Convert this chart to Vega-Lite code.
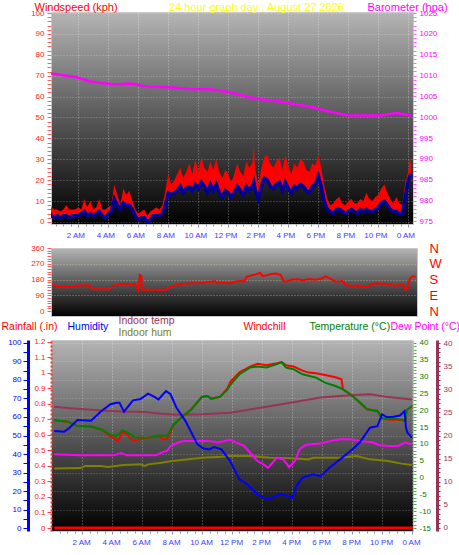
{
"$schema": "https://vega.github.io/schema/vega-lite/v6.json",
"padding": 0,
"background": "#ffffff",
"bounds": "flush",
"spacing": 24,
"config": {
  "font": "Liberation Sans",
  "view": {"fill": {"gradient": "linear", "x1": 0, "y1": 0, "x2": 0, "y2": 1, "stops": [{"offset": 0, "color": "#b4b4b4"}, {"offset": 0.5, "color": "#585858"}, {"offset": 1, "color": "#000000"}]}, "stroke": "#c8c8c8"},
  "axis": {"domain": false, "labelFontSize": 8, "titleFontWeight": "normal", "titleFontSize": 11, "titleAngle": 0, "titleAlign": "left", "titleBaseline": "top", "labelOverlap": false, "labelFlush": false, "grid": false}
},
"datasets": {
  "wind": [
    {"t":0,"g":11,"a":5},{"t":0.2,"g":7,"a":3},{"t":0.4,"g":6,"a":2},{"t":0.6,"g":6,"a":3},{"t":0.8,"g":5,"a":2},{"t":1,"g":6,"a":3},{"t":1.2,"g":8,"a":3},{"t":1.4,"g":6,"a":2},{"t":1.6,"g":6,"a":3},{"t":1.8,"g":6,"a":3},
    {"t":2,"g":7,"a":3},{"t":2.2,"g":6,"a":4},{"t":2.4,"g":11,"a":5},{"t":2.6,"g":7,"a":3},{"t":2.8,"g":10,"a":4},{"t":3,"g":6,"a":3},{"t":3.2,"g":7,"a":4},{"t":3.4,"g":11,"a":5},{"t":3.6,"g":6,"a":3},{"t":3.8,"g":6,"a":2},
    {"t":4,"g":7,"a":4},{"t":4.2,"g":8,"a":5},{"t":4.4,"g":18,"a":11},{"t":4.6,"g":13,"a":8},{"t":4.8,"g":8,"a":6},{"t":5,"g":16,"a":9},{"t":5.2,"g":13,"a":8},{"t":5.4,"g":15,"a":8},{"t":5.6,"g":10,"a":6},{"t":5.8,"g":6,"a":3},
    {"t":6,"g":4,"a":1},{"t":6.2,"g":5,"a":2},{"t":6.4,"g":6,"a":2},{"t":6.6,"g":3,"a":0},{"t":6.8,"g":5,"a":1},{"t":7,"g":6,"a":3},{"t":7.2,"g":7,"a":3},{"t":7.4,"g":6,"a":3},{"t":7.6,"g":8,"a":4},{"t":7.8,"g":15,"a":8},
    {"t":8,"g":23,"a":14},{"t":8.2,"g":18,"a":13},{"t":8.4,"g":20,"a":14},{"t":8.6,"g":23,"a":15},{"t":8.8,"g":26,"a":17},{"t":9,"g":21,"a":14},{"t":9.2,"g":24,"a":16},{"t":9.4,"g":28,"a":17},{"t":9.6,"g":23,"a":15},{"t":9.8,"g":30,"a":18},
    {"t":10,"g":24,"a":16},{"t":10.2,"g":31,"a":19},{"t":10.4,"g":26,"a":17},{"t":10.6,"g":24,"a":14},{"t":10.8,"g":29,"a":18},{"t":11,"g":25,"a":15},{"t":11.2,"g":30,"a":18},{"t":11.4,"g":24,"a":14},{"t":11.6,"g":21,"a":12},{"t":11.8,"g":25,"a":15},
    {"t":12,"g":23,"a":14},{"t":12.2,"g":19,"a":12},{"t":12.4,"g":23,"a":14},{"t":12.6,"g":28,"a":17},{"t":12.8,"g":24,"a":15},{"t":13,"g":22,"a":13},{"t":13.2,"g":29,"a":17},{"t":13.4,"g":26,"a":15},{"t":13.6,"g":28,"a":17},{"t":13.7,"g":37,"a":19},
    {"t":13.8,"g":25,"a":15},{"t":14,"g":18,"a":11},{"t":14.2,"g":26,"a":17},{"t":14.4,"g":31,"a":21},{"t":14.6,"g":32,"a":20},{"t":14.8,"g":28,"a":17},{"t":15,"g":26,"a":16},{"t":15.2,"g":29,"a":18},{"t":15.4,"g":31,"a":19},{"t":15.6,"g":25,"a":15},
    {"t":15.8,"g":32,"a":19},{"t":16,"g":27,"a":16},{"t":16.2,"g":23,"a":14},{"t":16.4,"g":28,"a":17},{"t":16.6,"g":26,"a":16},{"t":16.8,"g":30,"a":18},{"t":17,"g":29,"a":17},{"t":17.2,"g":25,"a":15},{"t":17.4,"g":24,"a":14},{"t":17.6,"g":28,"a":17},
    {"t":17.8,"g":27,"a":18},{"t":18,"g":32,"a":22},{"t":18.2,"g":26,"a":17},{"t":18.4,"g":17,"a":10},{"t":18.6,"g":11,"a":6},{"t":18.8,"g":8,"a":5},{"t":19,"g":9,"a":4},{"t":19.2,"g":11,"a":6},{"t":19.4,"g":12,"a":6},{"t":19.6,"g":9,"a":5},
    {"t":19.8,"g":8,"a":4},{"t":20,"g":10,"a":5},{"t":20.2,"g":11,"a":6},{"t":20.4,"g":9,"a":5},{"t":20.6,"g":9,"a":4},{"t":20.8,"g":11,"a":6},{"t":21,"g":10,"a":5},{"t":21.2,"g":14,"a":6},{"t":21.4,"g":11,"a":5},{"t":21.6,"g":10,"a":5},
    {"t":21.8,"g":12,"a":6},{"t":22,"g":13,"a":7},{"t":22.2,"g":16,"a":9},{"t":22.4,"g":18,"a":10},{"t":22.6,"g":14,"a":8},{"t":22.8,"g":11,"a":6},{"t":23,"g":9,"a":5},{"t":23.2,"g":12,"a":5},{"t":23.4,"g":9,"a":4},{"t":23.6,"g":8,"a":4},
    {"t":23.8,"g":19,"a":12},{"t":24,"g":24,"a":20},{"t":24.1,"g":31,"a":22},{"t":24.2,"g":27,"a":23}
  ],
  "baro": [
    {"t":0,"p":1010.6},{"t":1,"p":1010.1},{"t":1.9,"p":1009.6},{"t":2.8,"p":1008.6},{"t":3.5,"p":1008.2},{"t":4.2,"p":1008.0},{"t":4.8,"p":1007.9},{"t":5.3,"p":1008.1},{"t":5.8,"p":1008.0},{"t":6.3,"p":1007.5},{"t":6.8,"p":1007.3},{"t":8.1,"p":1007.2},{"t":9.5,"p":1006.8},{"t":10.8,"p":1006.7},{"t":12.1,"p":1006.0},{"t":13.4,"p":1004.8},{"t":14.4,"p":1004.2},{"t":15.4,"p":1003.8},{"t":16.5,"p":1003.1},{"t":17.6,"p":1002.4},{"t":18.7,"p":1001.4},{"t":19.9,"p":1000.5},{"t":21,"p":1000.4},{"t":22.1,"p":1000.4},{"t":23.2,"p":1001.0},{"t":24.2,"p":1000.4}
  ],
  "dir": [
    {"t":0.1,"d":155},{"t":0.3,"d":140},{"t":1.6,"d":140},{"t":1.7,"d":146},{"t":2.6,"d":146},{"t":2.7,"d":125},{"t":3.9,"d":125},{"t":4.0,"d":132},{"t":4.1,"d":145},{"t":4.5,"d":150},{"t":4.8,"d":155},{"t":5.3,"d":150},{"t":5.6,"d":152},{"t":5.8,"d":120},{"t":5.9,"d":205},{"t":6.0,"d":200},{"t":6.05,"d":122},{"t":7.7,"d":122},{"t":7.9,"d":135},{"t":8.2,"d":145},{"t":8.4,"d":150},{"t":8.8,"d":155},{"t":9.3,"d":158},{"t":10,"d":160},{"t":10.9,"d":170},{"t":11,"d":162},{"t":12,"d":160},{"t":12.3,"d":168},{"t":12.6,"d":172},{"t":12.9,"d":170},{"t":13.0,"d":195},{"t":13.3,"d":202},{"t":13.6,"d":208},{"t":13.9,"d":218},{"t":14.1,"d":200},{"t":14.4,"d":205},{"t":14.7,"d":212},{"t":15.0,"d":214},{"t":15.3,"d":205},{"t":15.5,"d":170},{"t":15.7,"d":168},{"t":16.0,"d":178},{"t":16.4,"d":182},{"t":16.8,"d":176},{"t":17.2,"d":183},{"t":17.6,"d":178},{"t":18.0,"d":186},{"t":18.3,"d":198},{"t":18.6,"d":185},{"t":18.9,"d":170},{"t":19.2,"d":168},{"t":19.4,"d":172},{"t":19.6,"d":150},{"t":20.0,"d":143},{"t":20.5,"d":145},{"t":21.0,"d":138},{"t":21.3,"d":150},{"t":21.7,"d":158},{"t":22.2,"d":156},{"t":22.6,"d":152},{"t":22.9,"d":145},{"t":23.3,"d":150},{"t":23.5,"d":145},{"t":23.6,"d":122},{"t":23.75,"d":130},{"t":23.9,"d":185},{"t":24.1,"d":200},{"t":24.3,"d":195}
  ],
  "hum": [
    {"t":0.15,"v":52.4},{"t":0.8,"v":52},{"t":1.1,"v":53.7},{"t":1.7,"v":58.4},{"t":2.6,"v":58},{"t":3.3,"v":63.2},{"t":3.9,"v":66.9},{"t":4.3,"v":67.7},{"t":4.5,"v":67.7},{"t":4.8,"v":62.9},{"t":5.4,"v":69},{"t":5.9,"v":69.7},{"t":6.4,"v":72.6},{"t":6.8,"v":71},{"t":7.1,"v":69.5},{"t":7.6,"v":74},{"t":7.9,"v":72.3},{"t":8.3,"v":65},{"t":8.6,"v":61.4},{"t":8.9,"v":57.8},{"t":9.3,"v":51.5},{"t":9.7,"v":45.2},{"t":10.1,"v":43},{"t":10.5,"v":42.5},{"t":10.8,"v":43.8},{"t":11.3,"v":42.5},{"t":11.7,"v":38},{"t":11.9,"v":35.8},{"t":12.1,"v":32.6},{"t":12.5,"v":26.3},{"t":13,"v":23.6},{"t":13.7,"v":18.2},{"t":14.3,"v":15.5},{"t":15.2,"v":18.2},{"t":15.7,"v":17.3},{"t":16,"v":16.2},{"t":16.3,"v":22.7},{"t":16.7,"v":27.2},{"t":17.4,"v":29},{"t":17.9,"v":28},{"t":18.5,"v":32.6},{"t":19.2,"v":37.1},{"t":19.9,"v":41.6},{"t":20.5,"v":46.1},{"t":21.2,"v":54.2},{"t":21.7,"v":55},{"t":22,"v":61.5},{"t":22.3,"v":60},{"t":22.7,"v":60},{"t":23.2,"v":60.8},{"t":23.5,"v":63.2},{"t":23.6,"v":54.2},{"t":23.7,"v":51.5},{"t":24,"v":48.8}
  ],
  "temp": [
    {"t":0.15,"v":17},{"t":1.07,"v":16.6},{"t":1.7,"v":15.3},{"t":2.6,"v":15.2},{"t":3.3,"v":14.3},{"t":3.9,"v":12.7},{"t":4.3,"v":12.4},{"t":4.7,"v":14},{"t":5,"v":13.5},{"t":5.5,"v":12},{"t":6.4,"v":11.8},{"t":7.1,"v":12.5},{"t":7.7,"v":12.4},{"t":8.1,"v":15.8},{"t":8.6,"v":17.8},{"t":9.3,"v":20.3},{"t":10,"v":24},{"t":10.4,"v":24.2},{"t":10.6,"v":23.4},{"t":11.2,"v":24},{"t":11.7,"v":26.2},{"t":11.9,"v":27.6},{"t":12.5,"v":30.7},{"t":13.2,"v":32.7},{"t":13.7,"v":33},{"t":14.3,"v":32.7},{"t":15,"v":33.7},{"t":15.3,"v":34.3},{"t":15.6,"v":32.7},{"t":16.1,"v":32.2},{"t":16.7,"v":30.7},{"t":17.6,"v":29.7},{"t":18.2,"v":28.2},{"t":18.9,"v":27.2},{"t":19.4,"v":26.2},{"t":19.9,"v":24.7},{"t":20.4,"v":22.8},{"t":21,"v":20.3},{"t":21.7,"v":19.8},{"t":22,"v":17.6},{"t":22.5,"v":17.5},{"t":23,"v":17.4},{"t":23.4,"v":17.2},{"t":23.55,"v":17},{"t":23.65,"v":20},{"t":24,"v":21.3}
  ],
  "chill": [
    {"t":0.15,"v":17},{"t":1.07,"v":16.6},{"t":1.7,"v":15.3},{"t":2.6,"v":15.2},{"t":3.3,"v":14.3},{"t":3.9,"v":12.2},{"t":4.1,"v":11.8},{"t":4.4,"v":10.9},{"t":4.7,"v":13.6},{"t":5,"v":12.8},{"t":5.4,"v":10.9},{"t":5.7,"v":11.3},{"t":6.4,"v":11.8},{"t":7.1,"v":12.3},{"t":7.4,"v":11.3},{"t":7.7,"v":11.5},{"t":8.1,"v":15.5},{"t":8.6,"v":17.8},{"t":9.3,"v":20.3},{"t":10,"v":24},{"t":10.4,"v":24.2},{"t":10.6,"v":23.4},{"t":11.2,"v":24},{"t":11.7,"v":26.5},{"t":11.9,"v":28.5},{"t":12.5,"v":31.3},{"t":13.2,"v":33},{"t":13.7,"v":33.8},{"t":14.3,"v":33.4},{"t":15,"v":34},{"t":15.3,"v":34.3},{"t":15.6,"v":33.4},{"t":16.1,"v":33},{"t":16.7,"v":31.8},{"t":17.1,"v":31.2},{"t":17.6,"v":31},{"t":18.2,"v":30.5},{"t":18.9,"v":29.8},{"t":19.3,"v":29.2},{"t":19.4,"v":26.2},{"t":19.9,"v":24.7},{"t":20.4,"v":22.8},{"t":21,"v":20.3},{"t":21.7,"v":19.8},{"t":22,"v":17.6},{"t":22.5,"v":17.2},{"t":23,"v":17.2},{"t":23.4,"v":17.0},{"t":23.55,"v":16.8},{"t":23.65,"v":20},{"t":24,"v":21.3}
  ],
  "dew": [
    {"t":0.15,"v":6.9},{"t":1.9,"v":6.6},{"t":3.3,"v":6.6},{"t":4.1,"v":6.6},{"t":4.6,"v":7.3},{"t":5,"v":6.6},{"t":6.9,"v":6.6},{"t":7.3,"v":7.4},{"t":7.7,"v":8},{"t":7.9,"v":9.4},{"t":8.4,"v":10.4},{"t":8.8,"v":10.9},{"t":9.5,"v":10.9},{"t":10.4,"v":10.9},{"t":11.1,"v":10.4},{"t":11.5,"v":10.9},{"t":11.9,"v":11.3},{"t":12.3,"v":10.4},{"t":12.8,"v":9.4},{"t":13.1,"v":7.9},{"t":13.4,"v":6.4},{"t":13.7,"v":4.9},{"t":14.1,"v":3.9},{"t":14.4,"v":2.9},{"t":14.7,"v":4.4},{"t":15,"v":5.9},{"t":15.4,"v":5.4},{"t":15.6,"v":4.4},{"t":15.8,"v":3.1},{"t":16.2,"v":4.9},{"t":16.5,"v":8.4},{"t":16.9,"v":9.7},{"t":17.2,"v":9.9},{"t":17.9,"v":10.1},{"t":18.6,"v":10.9},{"t":19.2,"v":11.4},{"t":19.9,"v":11.4},{"t":20.5,"v":10.9},{"t":21.4,"v":10.4},{"t":21.8,"v":9.7},{"t":22.4,"v":9.4},{"t":23.1,"v":9.4},{"t":23.5,"v":10.4},{"t":24,"v":9.9}
  ],
  "itemp": [
    {"t":0.15,"v":26.2},{"t":1.2,"v":25.9},{"t":3.3,"v":25.4},{"t":4.6,"v":25.2},{"t":6.2,"v":25.1},{"t":7.3,"v":24.7},{"t":8.4,"v":24.5},{"t":10,"v":24.6},{"t":11.9,"v":24.9},{"t":13.9,"v":26},{"t":15.9,"v":27.1},{"t":17.9,"v":28.2},{"t":19.9,"v":28.7},{"t":21.2,"v":28.9},{"t":22.4,"v":28.3},{"t":24,"v":27.8}
  ],
  "ihum": [
    {"t":0.15,"v":32.1},{"t":1.9,"v":32.4},{"t":2.2,"v":33.5},{"t":3.3,"v":33.5},{"t":3.7,"v":33},{"t":4.8,"v":34},{"t":5.9,"v":34.4},{"t":6.2,"v":33.5},{"t":6.4,"v":34.4},{"t":7.3,"v":35.3},{"t":8,"v":36.2},{"t":9.1,"v":37.1},{"t":10,"v":38},{"t":11.3,"v":38.5},{"t":11.9,"v":39.1},{"t":13.2,"v":38.9},{"t":14.5,"v":38},{"t":15.9,"v":37.7},{"t":17.1,"v":37.1},{"t":17.4,"v":38},{"t":19.2,"v":38},{"t":20.3,"v":38.9},{"t":21.2,"v":37.1},{"t":22.4,"v":36.2},{"t":23.3,"v":34.8},{"t":24,"v":34}
  ],
  "rain": [{"t":0.15,"v":0},{"t":24.05,"v":0}]
},
"vconcat": [
  {
    "width": 362, "height": 212,
    "layer": [
      {"data": {"name": "wind"}, "mark": {"type": "area", "color": "#ff0000", "clip": true},
       "encoding": {
         "x": {"field": "t", "type": "quantitative", "scale": {"domain": [0.18, 24.31], "nice": false, "zero": false},
               "axis": {"orient": "bottom", "values": [2,4,6,8,10,12,14,16,18,20,22,24],
                        "labelExpr": "datum.value % 24 === 0 ? '0 AM' : datum.value < 12 ? datum.value + ' AM' : datum.value === 12 ? '12 PM' : (datum.value - 12) + ' PM'",
                        "labelOverlap": false, "labelColor": "#3c3cff", "labelFontSize": 8, "labelPadding": 4, "labelOffset": -3, "tickColor": "#9090b0", "tickSize": 3,
                        "grid": true, "gridColor": "#ffffff", "gridDash": [1, 2], "gridOpacity": 0.45,
                        "title": "24 hour graph day : August 27 2026", "titleColor": "#ffff00", "titleAlign": "center", "titleX": 205, "titleY": -223}},
         "y": {"field": "a", "type": "quantitative", "scale": {"domain": [-0.96, 100.48], "nice": false, "zero": false},
               "axis": {"orient": "left", "values": [0,2,4,6,8,10,12,14,16,18,20,22,24,26,28,30,32,34,36,38,40,42,44,46,48,50,52,54,56,58,60,62,64,66,68,70,72,74,76,78,80,82,84,86,88,90,92,94,96,98,100],
                        "labelOverlap": false, "labelExpr": "datum.value % 10 === 0 ? '' + datum.value : ''", "labelColor": "#ff2020", "tickColor": "#ff6060", "tickSize": 4, "labelPadding": 3,
                        "grid": true, "gridColor": "#ffffff", "gridDash": [1, 2], "gridOpacity": {"condition": {"test": "datum.value % 10 === 0", "value": 0.35}, "value": 0},
                        "title": "Windspeed (kph)", "titleColor": "#ff0000", "titleX": -17, "titleY": -11}},
         "y2": {"field": "g"}
       }},
      {"data": {"name": "wind"}, "mark": {"type": "line", "color": "#000098", "strokeWidth": 3.5, "clip": true},
       "encoding": {"x": {"field": "t", "type": "quantitative", "axis": null},
                    "y": {"field": "a", "type": "quantitative", "scale": {"domain": [-0.96, 100.48], "nice": false, "zero": false}, "axis": null}}},
      {"data": {"name": "wind"}, "mark": {"type": "line", "strokeOpacity": 0},
       "encoding": {"x": {"field": "t", "type": "quantitative",
                          "axis": {"orient": "bottom", "values": [0.5,1,1.5,2.5,3,3.5,4.5,5,5.5,6.5,7,7.5,8.5,9,9.5,10.5,11,11.5,12.5,13,13.5,14.5,15,15.5,16.5,17,17.5,18.5,19,19.5,20.5,21,21.5,22.5,23,23.5], "labels": false, "tickColor": "#9090b0", "tickSize": 2, "grid": false, "title": null}},
                    "y": {"field": "a", "type": "quantitative", "scale": {"domain": [-0.96, 100.48], "nice": false, "zero": false}, "axis": null}}},
      {"data": {"name": "baro"}, "mark": {"type": "line", "color": "#ff00ff", "strokeWidth": 2.5, "clip": true},
       "encoding": {"x": {"field": "t", "type": "quantitative", "axis": null},
                    "y": {"field": "p", "type": "quantitative", "scale": {"domain": [974.4, 1025.25], "nice": false, "zero": false},
                          "axis": {"orient": "right", "values": [975,976,977,978,979,980,981,982,983,984,985,986,987,988,989,990,991,992,993,994,995,996,997,998,999,1000,1001,1002,1003,1004,1005,1006,1007,1008,1009,1010,1011,1012,1013,1014,1015,1016,1017,1018,1019,1020,1021,1022,1023,1024,1025],
                                   "labelOverlap": false, "labelExpr": "datum.value % 5 === 0 ? '' + datum.value : ''", "labelColor": "#ff00ff", "tickColor": "#ff60ff", "tickSize": 3, "labelPadding": 3,
                                   "title": "Barometer (hpa)", "titleColor": "#ff00ff", "titleX": -46, "titleY": -11}}}}
    ],
    "resolve": {"scale": {"y": "independent"}, "axis": {"x": "independent"}}
  },
  {
    "width": 366, "height": 68,
    "layer": [
      {"data": {"name": "dir"}, "mark": {"type": "line", "color": "#ff0000", "strokeWidth": 2, "clip": true},
       "encoding": {
         "x": {"field": "t", "type": "quantitative", "scale": {"domain": [-0.02, 24.38], "nice": false, "zero": false}, "axis": null},
         "y": {"field": "d", "type": "quantitative", "scale": {"domain": [-28.57, 360], "nice": false, "zero": false},
               "axis": {"orient": "left", "values": [0,15,30,45,60,75,90,105,120,135,150,165,180,195,210,225,240,255,270,285,300,315,330,345,360],
                        "labelOverlap": false, "labelExpr": "datum.value % 90 === 0 ? '' + datum.value : ''", "labelColor": "#ff2020", "tickColor": "#ff6060", "tickSize": 4, "labelPadding": 3,
                        "grid": true, "gridColor": "#e8e8b0", "gridDash": [1, 2], "gridOpacity": {"condition": {"test": "datum.value % 90 === 0 && datum.value > 0 && datum.value < 360", "value": 0.5}, "value": 0},
                        "title": null}}
       }},
      {"data": {"name": "dir"}, "mark": {"type": "line", "strokeOpacity": 0},
       "encoding": {
         "x": {"field": "t", "type": "quantitative", "axis": null},
         "y": {"field": "d", "type": "quantitative",
               "axis": {"orient": "right", "values": [0, 90, 180, 270, 360], "labelOverlap": false,
                        "labelExpr": "datum.value === 90 ? 'E' : datum.value === 180 ? 'S' : datum.value === 270 ? 'W' : 'N'",
                        "labelColor": "#ff0000", "labelFontSize": 13, "ticks": false, "labelPadding": 12, "title": null}}
       }}
    ],
    "resolve": {"axis": {"y": "independent"}}
  },
  {
    "width": 362, "height": 191,
    "layer": [
      {"data": {"name": "ihum"}, "mark": {"type": "line", "color": "#808000", "strokeWidth": 2, "clip": true},
       "encoding": {
         "x": {"field": "t", "type": "quantitative", "scale": {"domain": [-0.067, 24.067], "nice": false, "zero": false},
               "axis": {"orient": "bottom", "values": [2,4,6,8,10,12,14,16,18,20,22,24],
                        "labelExpr": "datum.value % 24 === 0 ? '0 AM' : datum.value < 12 ? datum.value + ' AM' : datum.value === 12 ? '12 PM' : (datum.value - 12) + ' PM'",
                        "labelOverlap": false, "labelColor": "#3c3cff", "labelFontSize": 8, "labelPadding": 4, "labelOffset": -1, "tickColor": "#9090b0", "tickSize": 3,
                        "grid": true, "gridColor": "#ffffff", "gridDash": [1, 2], "gridOpacity": 0.45,
                        "title": null}},
         "y": {"field": "v", "type": "quantitative", "scale": {"domain": [-1.62, 101.62], "nice": false, "zero": false},
               "axis": {"orient": "left", "values": [10,20,30,40,50,60,70,80,90,100], "labels": false, "ticks": false, "domain": false,
                        "grid": true, "gridColor": "#ffffff", "gridDash": [1, 2], "gridOpacity": 0.3,
                        "title": "Indoor hum", "titleColor": "#808000", "titleFontSize": 10.5, "titleX": 67, "titleY": -13}}
       }},
      {"data": {"name": "ihum"}, "mark": {"type": "line", "strokeOpacity": 0},
       "encoding": {
         "x": {"field": "t", "type": "quantitative",
               "axis": {"orient": "bottom", "values": [0.5,1,1.5,2.5,3,3.5,4.5,5,5.5,6.5,7,7.5,8.5,9,9.5,10.5,11,11.5,12.5,13,13.5,14.5,15,15.5,16.5,17,17.5,18.5,19,19.5,20.5,21,21.5,22.5,23,23.5], "labels": false, "tickColor": "#9090b0", "tickSize": 2, "grid": false, "title": null}},
         "y": {"field": "v", "type": "quantitative", "scale": {"domain": [-1.62, 101.62], "nice": false, "zero": false}, "axis": null}
       }},
      {"data": {"name": "itemp"}, "mark": {"type": "line", "color": "#993355", "strokeWidth": 2, "clip": true},
       "encoding": {
         "x": {"field": "t", "type": "quantitative", "axis": null},
         "y": {"field": "v", "type": "quantitative", "scale": {"domain": [-0.65, 40.65], "nice": false, "zero": false},
               "axis": {"orient": "right", "offset": 24, "values": [0,1,2,3,4,5,6,7,8,9,10,11,12,13,14,15,16,17,18,19,20,21,22,23,24,25,26,27,28,29,30,31,32,33,34,35,36,37,38,39,40],
                        "labelOverlap": false, "labelExpr": "datum.value % 5 === 0 ? '' + datum.value : ''", "labelColor": "#993355", "tickColor": "#993355", "tickSize": 3, "labelPadding": 3,
                        "domain": true, "domainColor": "#993355", "domainWidth": 3,
                        "title": "Indoor temp", "titleColor": "#993355", "titleFontSize": 10.5, "titleX": -319, "titleY": -25}}
       }},
      {"data": {"name": "dew"}, "mark": {"type": "line", "color": "#ff00ff", "strokeWidth": 2, "clip": true},
       "encoding": {
         "x": {"field": "t", "type": "quantitative", "axis": null},
         "y": {"field": "v", "type": "quantitative", "scale": {"domain": [-15.89, 40.89], "nice": false, "zero": false},
               "axis": {"orient": "right", "labels": false, "ticks": false, "domain": false, "values": [0],
                        "title": "Dew Point (°C)", "titleColor": "#ff00ff", "titleFontSize": 10.5, "titleX": -23, "titleY": -19}}
       }},
      {"data": {"name": "chill"}, "mark": {"type": "line", "color": "#ff0000", "strokeWidth": 2, "clip": true},
       "encoding": {
         "x": {"field": "t", "type": "quantitative", "axis": null},
         "y": {"field": "v", "type": "quantitative", "scale": {"domain": [-15.89, 40.89], "nice": false, "zero": false},
               "axis": {"orient": "left", "labels": false, "ticks": false, "domain": false, "values": [0],
                        "title": "Windchill", "titleColor": "#ff0000", "titleFontSize": 10.5, "titleX": 192, "titleY": -19}}
       }},
      {"data": {"name": "temp"}, "mark": {"type": "line", "color": "#008000", "strokeWidth": 2, "clip": true},
       "encoding": {
         "x": {"field": "t", "type": "quantitative", "axis": null},
         "y": {"field": "v", "type": "quantitative", "scale": {"domain": [-15.89, 40.89], "nice": false, "zero": false},
               "axis": {"orient": "right", "values": [-15,-14,-13,-12,-11,-10,-9,-8,-7,-6,-5,-4,-3,-2,-1,0,1,2,3,4,5,6,7,8,9,10,11,12,13,14,15,16,17,18,19,20,21,22,23,24,25,26,27,28,29,30,31,32,33,34,35,36,37,38,39,40],
                        "labelOverlap": false, "labelExpr": "datum.value % 5 === 0 ? '' + datum.value : ''", "labelColor": "#008000", "tickColor": "#50b050", "tickSize": 3, "labelPadding": 3,
                        "title": "Temperature (°C)", "titleColor": "#008000", "titleFontSize": 10.5, "titleX": -104, "titleY": -19}}
       }},
      {"data": {"name": "hum"}, "mark": {"type": "line", "color": "#0000ff", "strokeWidth": 2, "clip": true},
       "encoding": {
         "x": {"field": "t", "type": "quantitative", "axis": null},
         "y": {"field": "v", "type": "quantitative", "scale": {"domain": [-1.62, 101.62], "nice": false, "zero": false},
               "axis": {"orient": "left", "offset": 23, "values": [0,5,10,15,20,25,30,35,40,45,50,55,60,65,70,75,80,85,90,95,100],
                        "labelOverlap": false, "labelExpr": "datum.value % 10 === 0 ? '' + datum.value : ''", "labelColor": "#0000ff", "tickColor": "#0000ff", "tickSize": 5, "labelPadding": 2,
                        "domain": true, "domainColor": "#0000ff", "domainWidth": 3,
                        "title": "Humidity", "titleColor": "#0000ff", "titleFontSize": 10.5, "titleX": 39, "titleY": -19}}
       }},
      {"data": {"name": "rain"}, "mark": {"type": "line", "color": "#ff0000", "strokeWidth": 3, "clip": true},
       "encoding": {
         "x": {"field": "t", "type": "quantitative", "axis": null},
         "y": {"field": "v", "type": "quantitative", "scale": {"domain": [-0.0193, 1.2097], "nice": false, "zero": false},
               "axis": {"orient": "left", "values": [0,0.1,0.2,0.3,0.4,0.5,0.6,0.7,0.8,0.9,1,1.1,1.2],
                        "labelOverlap": false, "labelExpr": "format(datum.value, '.1~f')", "labelColor": "#ff2020", "tickColor": "#ff4040", "tickSize": 4, "labelPadding": 2,
                        "domain": true, "domainColor": "#ff3030", "domainDash": [2, 2], "domainWidth": 2,
                        "title": "Rainfall (.in)", "titleColor": "#ff0000", "titleFontSize": 10.5, "titleX": -50, "titleY": -19}}
       }}
    ],
    "resolve": {"scale": {"y": "independent"}, "axis": {"x": "independent"}}
  }
]
}
